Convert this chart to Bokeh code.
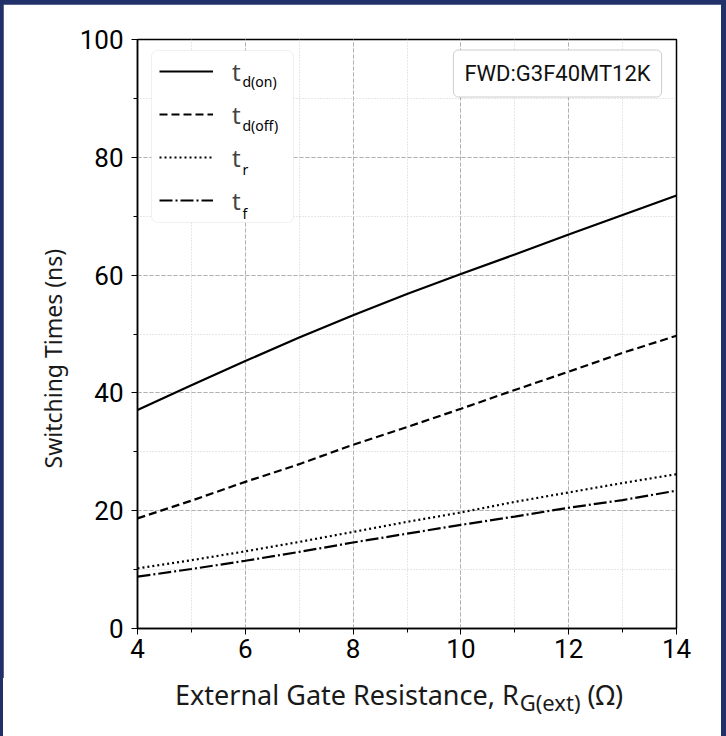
from bokeh.plotting import figure
from bokeh.models import (Legend, LegendItem, Label, SingleIntervalTicker, Column, Div,
                          BoxAnnotation, Title)
from bokeh.embed import file_html
from bokeh.resources import INLINE

# ---- data ----
rg = [4, 5, 6, 7, 8, 9, 10, 11, 12, 13, 14]
td_on = [37.1, 41.3, 45.4, 49.4, 53.2, 56.8, 60.2, 63.5, 66.9, 70.2, 73.5]
td_off = [18.7, 21.7, 24.9, 27.9, 31.2, 34.2, 37.3, 40.5, 43.6, 46.8, 49.7]
t_r = [10.2, 11.6, 13.1, 14.7, 16.4, 18.1, 19.7, 21.5, 23.1, 24.7, 26.2]
t_f = [8.8, 10.1, 11.5, 13.0, 14.6, 16.1, 17.6, 19.0, 20.5, 21.8, 23.4]
series_main = ["t", "t", "t", "t"]
series_sub = ["d(on)", "d(off)", "r", "f"]
box_text = "FWD:G3F40MT12K"
x_label_main = "External Gate Resistance, R"
x_label_sub = "G(ext)"
x_label_unit = "(Ω)"
y_label = "Switching Times (ns)"

TICK_FONT = "Roboto"
LABEL_FONT = "Noto Sans"

p = figure(width=718, height=674, x_range=(4, 14), y_range=(0, 100),
           output_backend="svg", toolbar_location=None,
           min_border_left=134, min_border_right=45,
           min_border_top=35, min_border_bottom=50,
           background_fill_color="white", border_fill_color="white")
p.margin = (4, 5, 0, 3)

p.outline_line_color = "black"
p.outline_line_width = 1.5

p.xaxis.ticker = SingleIntervalTicker(interval=2, num_minor_ticks=2)
p.yaxis.ticker = SingleIntervalTicker(interval=20, num_minor_ticks=2)
for ax in (p.xaxis[0], p.yaxis[0]):
    ax.axis_line_color = "black"
    ax.axis_line_width = 1.5
    ax.major_tick_line_color = "black"
    ax.minor_tick_line_color = "black"
    ax.major_tick_in = 0
    ax.major_tick_out = 6
    ax.minor_tick_in = 0
    ax.minor_tick_out = 4
    ax.major_label_text_font = TICK_FONT
    ax.major_label_text_font_size = "26px"
    ax.major_label_text_color = "black"
p.xaxis.major_label_standoff = 4
p.yaxis.major_label_standoff = 8

# y axis title, placed as in the reference (starting low, reading upward)
p.add_layout(Title(text=y_label, align="left", offset=160, standoff=16,
                   text_font=LABEL_FONT, text_font_size="23px",
                   text_font_style="normal", text_color="#1a1a1a"), "left")

for g in (p.xgrid[0], p.ygrid[0]):
    g.grid_line_color = "#b0b0b0"
    g.grid_line_dash = "4 2"
    g.grid_line_width = 1
    g.minor_grid_line_color = "#cfcfcf"
    g.minor_grid_line_dash = "1 2"
    g.minor_grid_line_width = 1

r1 = p.line(rg, td_on, line_color="black", line_width=2.2)
r2 = p.line(rg, td_off, line_color="black", line_width=2.2, line_dash="8 4")
r3 = p.line(rg, t_r, line_color="black", line_width=2.2, line_dash="2 3")
r4 = p.line(rg, t_f, line_color="black", line_width=2.2, line_dash="13 3 2 3")
renderers = [r1, r2, r3, r4]

# legend frame (drawn first, underneath the transparent legend)
p.add_layout(BoxAnnotation(left=14, right=156, top=578, bottom=406,
                           left_units="screen", right_units="screen",
                           top_units="screen", bottom_units="screen",
                           fill_color="white", fill_alpha=1.0,
                           line_color="#cccccc", line_width=1, border_radius=6,
                           level="annotation"))

legend = Legend(items=[LegendItem(label=m, renderers=[r]) for m, r in zip(series_main, renderers)],
                location=(22, 411))
legend.glyph_width = 54
legend.glyph_height = 34
legend.label_height = 34
legend.label_width = 40
legend.spacing = 9
legend.padding = 0
legend.margin = 0
legend.label_standoff = 19
legend.label_text_font = LABEL_FONT
legend.label_text_font_size = "24px"
legend.border_line_color = None
legend.background_fill_alpha = 0.0
p.add_layout(legend, "center")

# legend subscripts
for i, s in enumerate(series_sub):
    p.add_layout(Label(x=105, y=628 - (69 + 44 * i + 12), x_units="screen", y_units="screen",
                       text=s, text_font=LABEL_FONT, text_font_size="14px",
                       text_baseline="alphabetic", text_align="left", text_color="black"))

# device label box
p.add_layout(Label(x=420, y=555, x_units="screen", y_units="screen", text=box_text,
                   text_font="Roboto", text_font_size="22px", text_align="center",
                   text_baseline="middle", text_color="#111111",
                   background_fill_color="white", border_line_color="#cccccc",
                   border_line_width=1, padding=11, border_radius=5))

# x axis label with subscript, as HTML text under the plot
xlabel_html = (
    '<div style="padding-left:172px; font-family:\'Noto Sans\'; font-size:27px; '
    'line-height:34px; color:#1a1a1a; white-space:nowrap;">'
    + x_label_main
    + '<span style="font-size:22px; position:relative; top:6px; line-height:0; margin-left:1px;">'
    + x_label_sub + '</span> ' + x_label_unit + '</div>'
)
xdiv = Div(text=xlabel_html, width=718, height=58, margin=(0, 5, 0, 3),
           styles={"background-color": "white"})

col = Column(children=[p, xdiv], width=726, height=736, spacing=0,
             styles={"background-color": "#22306a"})

open("out.html", "w").write(file_html(col, INLINE))
